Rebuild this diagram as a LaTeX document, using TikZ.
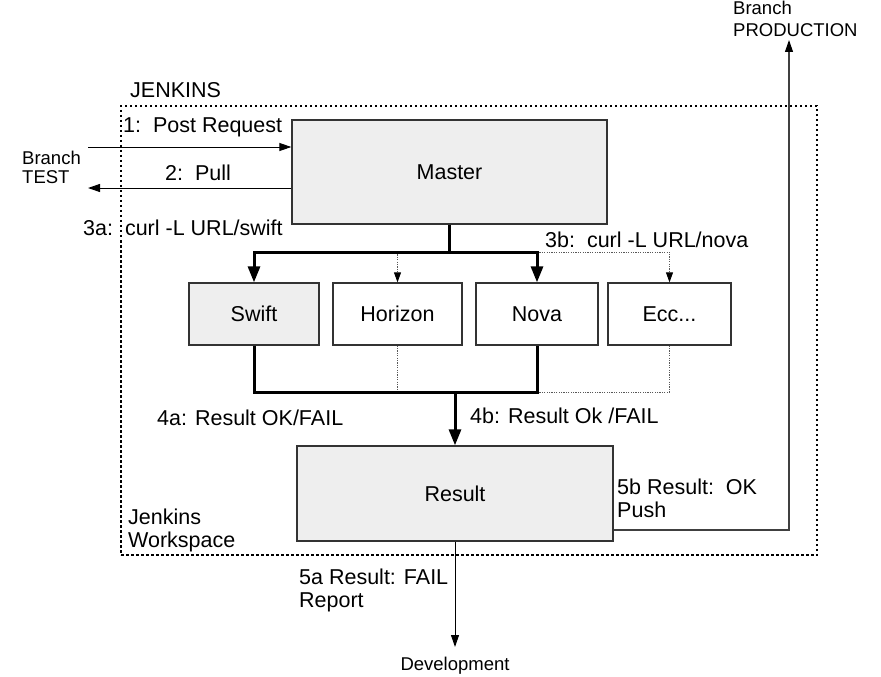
\documentclass[tikz,border=0pt]{standalone}
\usepackage{fontspec}
\setmainfont{Liberation Sans}
\usetikzlibrary{arrows.meta}
\definecolor{boxgray}{HTML}{EEEEEE}
\begin{document}
\begin{tikzpicture}[x=1pt,y=-1pt,
  lbl/.style={font=\fontsize{21.5}{23.5}\selectfont, inner sep=0pt, anchor=base west, align=left},
  slbl/.style={font=\fontsize{18.5}{19.3}\selectfont, inner sep=0pt, anchor=base west, align=left},
  box/.style={draw=black!80, line width=1.3pt, inner sep=0pt, font=\fontsize{21.5}{24}\selectfont},
  thinarrow/.style={line width=1pt, -{Triangle[length=12pt,width=8pt]}},
  heavy/.style={line width=3pt},
  heavyarrow/.style={line width=3pt, -{Triangle[length=16pt,width=12pt]}},
  dotline/.style={black!65, line width=0.9pt, dash pattern=on 1.2pt off 1.2pt},
  dotarrow/.style={dotline, -{Triangle[length=10pt,width=7pt,fill=black,color=black]}},
  prodarrow/.style={black!75, line width=1.1pt, -{Triangle[length=12pt,width=8pt,fill=black,color=black]}},
]
\useasboundingbox (0,0) rectangle (881,677);
% workspace frame
\node[draw, line width=1.5pt, dash pattern=on 2.5pt off 2.5pt, minimum width=696pt, minimum height=449pt, inner sep=0pt] (ws) at (469,330.5) {};
% boxes
\node[box, fill=boxgray, minimum width=315pt, minimum height=104pt] (master) at (449.5,172) {Master};
\node[box, fill=boxgray, minimum width=130pt, minimum height=62pt] (swift) at (254,314) {Swift};
\node[box, fill=white, minimum width=129pt, minimum height=62pt] (horizon) at (397.5,314) {Horizon};
\node[box, fill=white, minimum width=122pt, minimum height=62pt] (nova) at (537,314) {Nova};
\node[box, fill=white, minimum width=123pt, minimum height=62pt] (ecc) at (669.5,314) {Ecc...};
\node[box, fill=boxgray, minimum width=316pt, minimum height=95pt] (result) at (455,493.5) {Result};
% labels
\node[lbl] (jenkins) at (130,97.5) {JENKINS};
\node[lbl] (l1) at (123,132) {1:\ \ Post Request};
\node[lbl] (l2) at (165,180.5) {2:\ \ Pull};
\node[slbl] (btest) at (22,183.3) {Branch\\TEST};
\node[lbl] (l3a) at (83,235) {3a:\ \ curl -L URL/swift};
\node[lbl] (l3b) at (545,247) {3b:\ \ curl -L URL/nova};
\node[lbl] (l4a) at (157,425) {4a: Result OK/FAIL};
\node[lbl] (l4b) at (470,423) {4b: Result Ok /FAIL};
\node[lbl] (l5b) at (617,517.7) {5b Result:\ \ OK\\Push};
\node[lbl] (l5a) at (299,607.7) {5a Result: FAIL\\Report};
\node[lbl, font=\fontsize{21.5}{23}\selectfont] (jw) at (128,547) {Jenkins\\Workspace};
\node[slbl, font=\fontsize{18.5}{21.7}\selectfont] (bprod) at (733,36.7) {Branch\\PRODUCTION};
\node[slbl, anchor=base] (dev) at (455,670) {Development};
% coordinates
\coordinate (bt1) at (88,147);
\coordinate (bt2) at (88,188);
\coordinate (split) at (449,252);
\coordinate (join) at (455,392);
\coordinate (y530) at (0,530);
\coordinate (prodtip) at (789,40);
\coordinate (devtip) at (455,647);
% connectors
\draw[thinarrow] (bt1) -- (bt1 -| master.west);
\draw[thinarrow] (bt2 -| master.west) -- (bt2);
\draw[heavy] (master.south -| split) -- (split);
\draw[dotarrow] (horizon.north |- split) -- (horizon.north);
\draw[dotarrow] (nova.north |- split) -| (ecc.north);
\draw[heavyarrow] (split) -| (swift.north);
\draw[heavyarrow] (split) -| (nova.north);
\draw[dotline] (horizon.south) -- (horizon.south |- join);
\draw[dotline] (ecc.south) |- (nova.south |- join);
\draw[heavy] (swift.south) |- (nova.south |- join) -- (nova.south);
\draw[heavyarrow] (join) -- (result.north);
\draw[prodarrow] (result.east |- y530) -| (prodtip);
\draw[thinarrow] (result.south) -- (devtip);
\end{tikzpicture}
\end{document}
